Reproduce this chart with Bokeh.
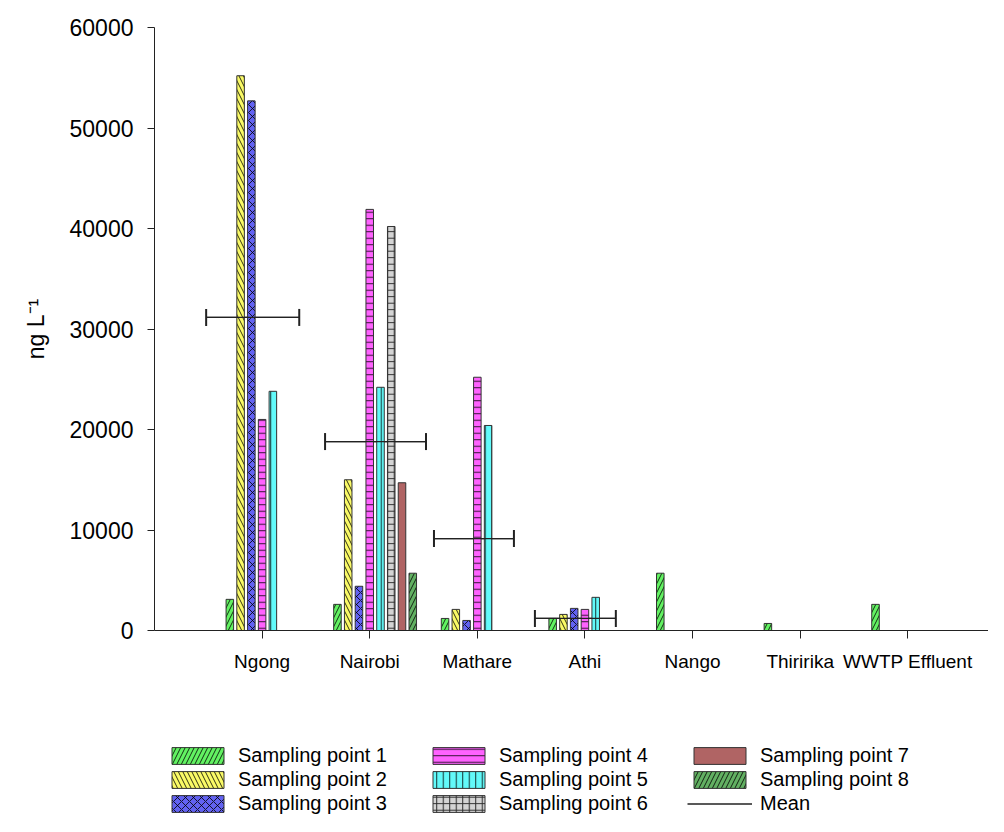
from bokeh.plotting import figure
from bokeh.layouts import column
from bokeh.models import (Range1d, FixedTicker, Legend, LegendItem, Whisker,
                          ColumnDataSource, TeeHead)
from bokeh.embed import file_html
from bokeh.resources import INLINE

# ---------------- data ----------------
sites = ["Ngong", "Nairobi", "Mathare", "Athi", "Nango", "Thiririka", "WWTP Effluent"]
series_names = ["Sampling point 1", "Sampling point 2", "Sampling point 3",
                "Sampling point 4", "Sampling point 5", "Sampling point 6",
                "Sampling point 7", "Sampling point 8"]

sp1 = [3100, 2600, 1200, 1200, 5700, 700, 2600]
sp2 = [55200, 15000, 2100, 1600, None, None, None]
sp3 = [52700, 4400, 1000, 2200, None, None, None]
sp4 = [21000, 41900, 25200, 2100, None, None, None]
sp5 = [23800, 24200, 20400, 3300, None, None, None]
sp6 = [None, 40200, None, None, None, None, None]
sp7 = [None, 14700, None, None, None, None, None]
sp8 = [None, 5700, None, None, None, None, None]
all_series = [sp1, sp2, sp3, sp4, sp5, sp6, sp7, sp8]

mean_sites = ["Ngong", "Nairobi", "Mathare", "Athi"]
mean_values = [31150, 18800, 9150, 1200]
mean_x_low = [0.48, 1.585, 2.597, 3.535]
mean_x_high = [1.345, 2.523, 3.340, 4.287]

y_ticks = [0, 10000, 20000, 30000, 40000, 50000, 60000]

# ---------------- styles ----------------
colors = ["#62F262", "#FAFA66", "#6262F2", "#FF62FF", "#62FAFA", "#D4D4D4", "#B06464", "#62B062"]
hatches = ["/", "\\", "x", "-", "|", "+", None, "/"]
hatch_scales = [9, 9, 8, 6.5, 6.5, 6.5, None, 9]
FONT = "Liberation Sans"
AX = "#222222"


def bar_style(si):
    kw = dict(fill_color=colors[si], line_color="#333333", line_width=1)
    if hatches[si]:
        kw.update(hatch_pattern=hatches[si], hatch_color="black", hatch_alpha=0.8,
                  hatch_scale=hatch_scales[si], hatch_weight=1)
    return kw


p = figure(width=988, height=690, output_backend="svg", toolbar_location=None,
           x_range=Range1d(0, 7.75), y_range=Range1d(0, 60000),
           min_border_left=154, min_border_right=0, min_border_top=27,
           min_border_bottom=60)
p.outline_line_color = None
p.xgrid.grid_line_color = None
p.ygrid.grid_line_color = None

bar_w = 0.07
step = 0.1
for si, vals in enumerate(all_series):
    xs, tops = [], []
    for ci, v in enumerate(vals):
        if v is not None:
            xs.append(ci + 1 + (si - 3) * step)
            tops.append(v)
    src = ColumnDataSource(dict(x=xs, top=tops))
    p.vbar(x="x", top="top", width=bar_w, bottom=0, source=src, **bar_style(si))

# mean lines with caps
msrc = ColumnDataSource(dict(y=mean_values, lo=mean_x_low, hi=mean_x_high))
p.segment(x0="lo", x1="hi", y0="y", y1="y", source=msrc,
          line_color=AX, line_width=1.3)
wh = Whisker(source=msrc, base="y", lower="lo", upper="hi", dimension="width",
             line_color=AX, line_width=1.3,
             lower_head=TeeHead(size=17, line_color=AX, line_width=2),
             upper_head=TeeHead(size=17, line_color=AX, line_width=2))
p.add_layout(wh)

# ---------------- axes ----------------
p.xaxis.ticker = FixedTicker(ticks=list(range(1, len(sites) + 1)))
p.xaxis.major_label_overrides = {i + 1: s for i, s in enumerate(sites)}
p.xaxis.major_label_text_font = FONT
p.xaxis.major_label_text_font_size = "19px"
p.xaxis.major_label_text_color = "black"
p.xaxis.major_tick_out = 8
p.xaxis.major_tick_in = 0
p.xaxis.minor_tick_line_color = None
p.xaxis.major_label_standoff = 12
p.xaxis.axis_line_color = AX
p.xaxis.major_tick_line_color = AX

p.yaxis.ticker = FixedTicker(ticks=y_ticks)
p.yaxis.major_label_text_font = FONT
p.yaxis.major_label_text_font_size = "23px"
p.yaxis.major_label_text_color = "black"
p.yaxis.major_tick_out = 7
p.yaxis.major_tick_in = 0
p.yaxis.minor_tick_line_color = None
p.yaxis.major_label_standoff = 14
p.yaxis.axis_line_color = AX
p.yaxis.major_tick_line_color = AX
p.yaxis.axis_label = "ng L\u207b\u00b9"
p.yaxis.axis_label_text_font = FONT
p.yaxis.axis_label_text_font_size = "23px"
p.yaxis.axis_label_text_font_style = "normal"
p.yaxis.axis_label_text_color = "black"
p.yaxis.axis_label_standoff = 18

# ---------------- legend (separate strip below) ----------------
lg = figure(width=988, height=126, output_backend="svg", toolbar_location=None,
            x_range=Range1d(0, 1), y_range=Range1d(0, 1),
            min_border_left=154, min_border_right=0, min_border_top=0,
            min_border_bottom=0)
lg.axis.visible = False
lg.grid.visible = False
lg.outline_line_color = None

items = []
for si, name in enumerate(series_names):
    # off-screen proxy glyph so that the legend swatch is drawn
    r = lg.vbar(x=[5], top=[1], width=0.1, bottom=0, **bar_style(si))
    items.append(LegendItem(label=name, renderers=[r]))
mr = lg.line(x=[5, 6], y=[0.5, 0.5], line_color=AX, line_width=1.3)
items.append(LegendItem(label="Mean", renderers=[mr]))

legend = Legend(items=items, location=(11, 1), nrows=3,
                orientation="vertical", padding=0, margin=0, spacing=1,
                glyph_width=65, glyph_height=21, label_standoff=8,
                label_width=187, label_height=20,
                label_text_font=FONT, label_text_font_size="20px",
                label_text_color="black",
                border_line_alpha=0, background_fill_alpha=0)
lg.add_layout(legend, "center")

layout = column(p, lg, spacing=0)
open("out.html", "w").write(file_html(layout, INLINE))
